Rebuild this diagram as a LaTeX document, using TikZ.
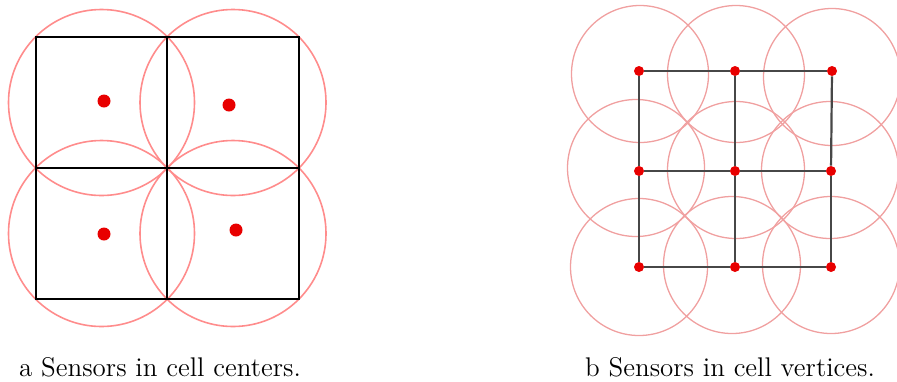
\documentclass[tikz,border=0pt]{standalone}
\usepackage{xcolor}
\usepackage{tikz}
\definecolor{SensorRed}{HTML}{E80000}
\definecolor{RangeRedA}{HTML}{FF8C8C}
\definecolor{RangeRedB}{HTML}{F0A0A0}
\tikzset{
  cellline/.style={draw=black,line width=1.1pt},
  gridline/.style={draw=black!72,line width=1.1pt},
  rangeA/.style={draw=RangeRedA,line width=0.8pt},
  rangeB/.style={draw=RangeRedB,line width=0.65pt},
  sensorA/.style={circle,fill=SensorRed,inner sep=0pt,minimum size=6.5pt},
  sensorB/.style={circle,fill=SensorRed,inner sep=0pt,minimum size=5pt},
  capt/.style={font=\fontsize{13.5}{16}\selectfont,inner sep=0pt},
}

\begin{document}
\begin{tikzpicture}[x=0.5pt,y=-0.5pt]
  \useasboundingbox (0,0) rectangle (897,381);
  % (a) sensors in cell centers
  \draw[rangeA] (101.5,102.5) circle[radius=93];
  \draw[rangeA] (233,102.5) circle[radius=93];
  \draw[rangeA] (101.5,233.5) circle[radius=93];
  \draw[rangeA] (233,233.5) circle[radius=93];
  \draw[cellline] (36,37) rectangle (299,299);
  \draw[cellline] (167,37) -- (167,299);
  \draw[cellline] (36,168) -- (299,168);
  \node[sensorA] (a1) at (104,101) {};
  \node[sensorA] (a2) at (229,105) {};
  \node[sensorA] (a3) at (104,234) {};
  \node[sensorA] (a4) at (236,230) {};
  \node[capt] (capa) at (160,367) {a Sensors in cell centers.};
  % (b) sensors in cell vertices
  \draw[rangeB] (640,74) circle[radius=68.5];
  \draw[rangeB] (736,74) circle[radius=68.5];
  \draw[rangeB] (832,77) circle[radius=68.5];
  \draw[rangeB] (636,168) circle[radius=68.5];
  \draw[rangeB] (736,170) circle[radius=68.5];
  \draw[rangeB] (830,170) circle[radius=68.5];
  \draw[rangeB] (639,267) circle[radius=68.5];
  \draw[rangeB] (732,265) circle[radius=68.5];
  \draw[rangeB] (831,265) circle[radius=68.5];
  \node[sensorB] (b11) at (639,71) {};
  \node[sensorB] (b12) at (735,71) {};
  \node[sensorB] (b13) at (832,71) {};
  \node[sensorB] (b21) at (639,171) {};
  \node[sensorB] (b22) at (735,171) {};
  \node[sensorB] (b23) at (831,171) {};
  \node[sensorB] (b31) at (639,267) {};
  \node[sensorB] (b32) at (735,267) {};
  \node[sensorB] (b33) at (831,267) {};
  \draw[gridline] (b11) -- (b12);
  \draw[gridline] (b12) -- (b13);
  \draw[gridline] (b21) -- (b22);
  \draw[gridline] (b22) -- (b23);
  \draw[gridline] (b31) -- (b32);
  \draw[gridline] (b32) -- (b33);
  \draw[gridline] (b11) -- (b21);
  \draw[gridline] (b21) -- (b31);
  \draw[gridline] (b12) -- (b22);
  \draw[gridline] (b22) -- (b32);
  \draw[gridline] (b13) -- (b23);
  \draw[gridline] (b23) -- (b33);
  \node[capt] (capb) at (730,367) {b Sensors in cell vertices.};
\end{tikzpicture}
\end{document}
